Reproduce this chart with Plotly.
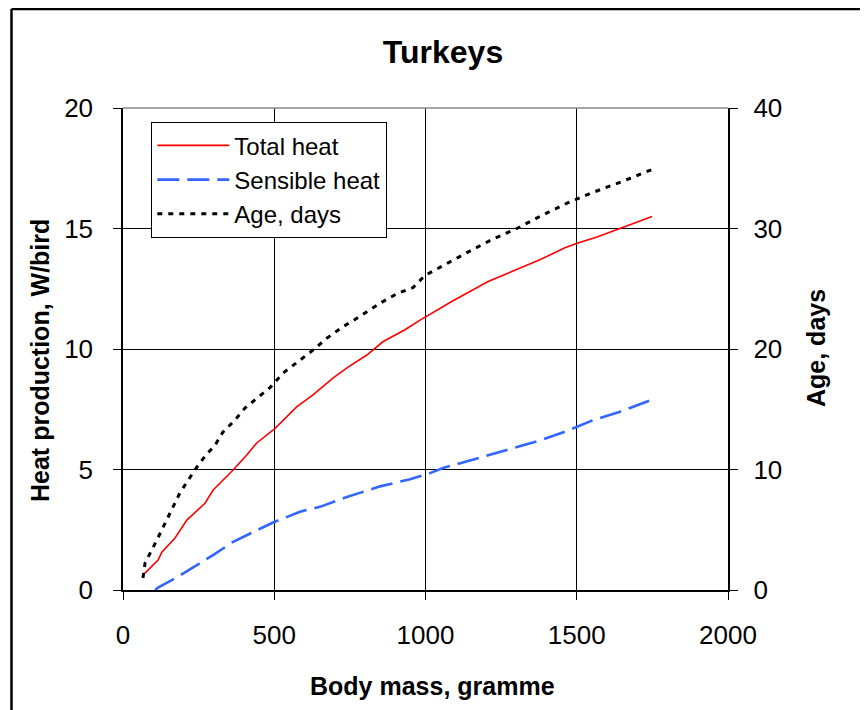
import plotly.graph_objects as go

# Data
total_mass = [66, 116, 129, 172, 211, 271, 298, 364, 409, 442, 502, 574, 628, 695, 744, 806, 859, 932,
              982, 1091, 1207, 1302, 1378, 1461, 1504, 1567, 1643, 1749]
total_heat = [0.62, 1.24, 1.58, 2.16, 2.9, 3.6, 4.15, 4.98, 5.6, 6.1, 6.7, 7.6, 8.1, 8.8, 9.25, 9.75, 10.3, 10.8,
              11.2, 12.0, 12.8, 13.3, 13.7, 14.2, 14.4, 14.65, 15.0, 15.5]

sens_mass = [106, 116, 188, 255, 304, 364, 430, 496, 585, 651, 740, 850, 949, 1015,
             1058, 1180, 1302, 1378, 1468, 1554, 1643, 1749]
sens_heat = [0.0, 0.1, 0.6, 1.1, 1.5, 2.0, 2.4, 2.8, 3.25, 3.45, 3.86, 4.3, 4.6, 4.85,
             5.06, 5.5, 5.95, 6.2, 6.6, 7.05, 7.4, 7.9]

age_mass = [66, 73, 112, 149, 188, 215, 244, 274, 304, 330, 370, 403, 446, 486, 529, 575, 628, 674,
            724, 783, 850, 906, 959, 998, 1048, 1137, 1213, 1302, 1378, 1468, 1554, 1650, 1749]
age_days = [1.0, 2.24, 4.15, 6.06, 8.05, 9.1, 10.2, 11.2, 12.0, 13.1, 14.1, 15.1, 16.0, 16.8, 18.0, 18.9, 19.9, 20.9,
            21.8, 22.7, 23.8, 24.6, 25.1, 26.1, 26.8, 28.0, 29.0, 30.0, 31.0, 32.1, 33.0, 33.9, 34.9]

x_ticks = [0, 500, 1000, 1500, 2000]
y_ticks = [0, 5, 10, 15, 20]
y2_ticks = [0, 10, 20, 30, 40]

FONT = "Liberation Sans, Arial, sans-serif"

fig = go.Figure()
fig.add_trace(go.Scatter(x=total_mass, y=total_heat, mode="lines", name="Total heat",
                         line=dict(color="#FF0000", width=1.6)))
fig.add_trace(go.Scatter(x=sens_mass, y=sens_heat, mode="lines", name="Sensible heat",
                         line=dict(color="#3366FF", width=2.6, dash="22px,8px")))
fig.add_trace(go.Scatter(x=age_mass, y=age_days, mode="lines", name="Age, days", yaxis="y2",
                         line=dict(color="#000000", width=3, dash="5px,6px")))

# page body has an 8px margin, so layout coords = reference pixel - 8
OFF = 8
W, H = 868 - OFF, 710 - OFF
L, R, T, B = 123 - OFF, 728 - OFF, 108 - OFF, 590 - OFF
pw, ph = R - L, B - T

def px(x):
    return (x - OFF - L) / pw

def py(y):
    return (B - (y - OFF)) / ph

TICKFONT = dict(size=26, family=FONT, color="black")

fig.update_layout(
    width=W, height=H,
    margin=dict(l=L, r=W - R, t=T, b=H - B, pad=0),
    paper_bgcolor="white", plot_bgcolor="white",
    font=dict(family=FONT, size=26, color="black"),
    showlegend=True,
    legend=dict(x=px(151), y=py(122), xanchor="left", yanchor="top",
                bgcolor="white", bordercolor="black", borderwidth=1.3,
                font=dict(size=24, family=FONT), tracegroupgap=0, itemwidth=72),
    xaxis=dict(range=[0, 2000], tickvals=x_ticks, ticks="outside", ticklen=8, tickwidth=1.3,
               tickcolor="black", showline=True, linecolor="black", linewidth=1.5,
               showgrid=True, gridcolor="black", gridwidth=1.3, zeroline=False,
               tickfont=TICKFONT, ticklabelstandoff=13),
    yaxis=dict(range=[0, 20], tickvals=y_ticks, ticks="outside", ticklen=8, tickwidth=1.3,
               tickcolor="black", showline=True, linecolor="black", linewidth=1.5,
               showgrid=True, gridcolor="black", gridwidth=1.3, zeroline=False,
               tickfont=TICKFONT, ticklabelstandoff=15),
    yaxis2=dict(range=[0, 40], tickvals=y2_ticks, overlaying="y", side="right", anchor="x",
                ticks="outside", ticklen=8, tickwidth=1.3, tickcolor="black",
                showline=True, linecolor="black", linewidth=2.4, showgrid=False, zeroline=False,
                tickfont=TICKFONT, ticklabelstandoff=10),
    title=dict(text="<b>Turkeys</b>", x=px(443), xref="paper", xanchor="center",
               y=1 - (52 - OFF) / H, yref="container", yanchor="middle",
               font=dict(size=32, family=FONT, color="black")),
)

# top border line of the plot area (grey)
fig.add_shape(type="line", xref="paper", yref="paper", x0=0, x1=1, y0=1, y1=1,
              line=dict(color="#888888", width=1.5))
# outer chart border: only its top and left edges fall inside the picture
fig.add_shape(type="line", xref="paper", yref="paper",
              x0=px(11.5), x1=px(900), y0=py(9), y1=py(9),
              line=dict(color="black", width=2.5), layer="below")
fig.add_shape(type="line", xref="paper", yref="paper",
              x0=px(11.5), x1=px(11.5), y0=py(760), y1=py(9),
              line=dict(color="black", width=2.5), layer="below")

fig.add_annotation(text="<b>Body mass, gramme</b>", xref="paper", yref="paper",
                   x=px(432), y=py(686), xanchor="center", yanchor="middle", showarrow=False,
                   font=dict(size=25, family=FONT))
fig.add_annotation(text="<b>Heat production, W/bird</b>", xref="paper", yref="paper",
                   x=px(40), y=py(361), xanchor="center", yanchor="middle", showarrow=False,
                   textangle=-90, font=dict(size=25, family=FONT))
fig.add_annotation(text="<b>Age, days</b>", xref="paper", yref="paper",
                   x=px(816), y=py(348), xanchor="center", yanchor="middle", showarrow=False,
                   textangle=-90, font=dict(size=25, family=FONT))

fig.write_html("out.html")
